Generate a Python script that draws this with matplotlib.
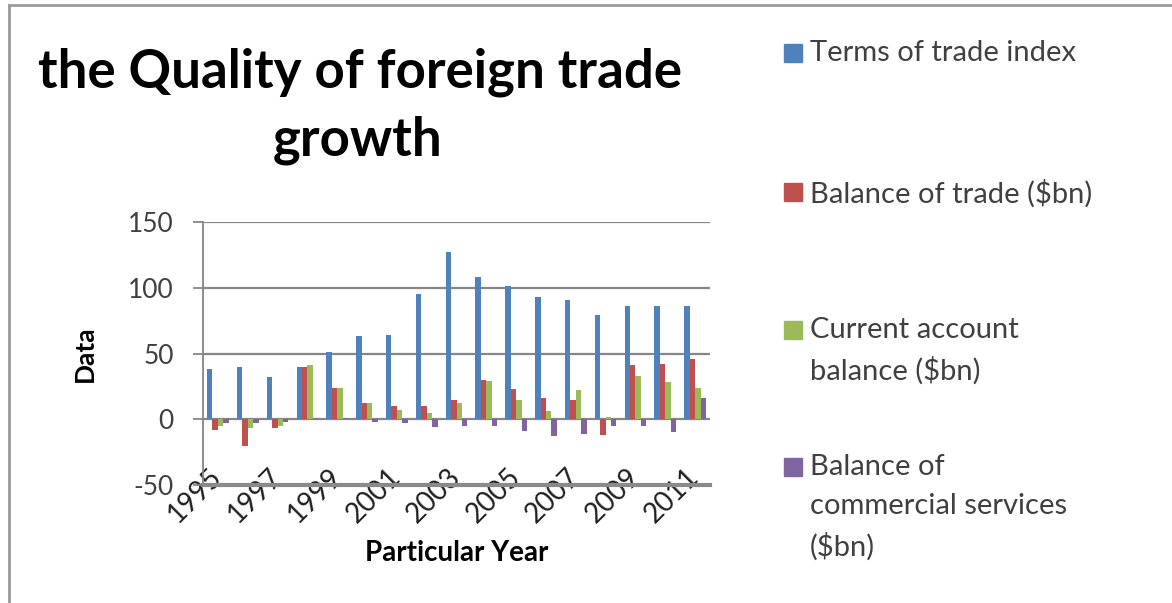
import matplotlib

matplotlib.use("Agg")
import matplotlib.pyplot as plt
import numpy as np
from matplotlib.lines import Line2D
from matplotlib.patches import Rectangle

plt.rcParams["font.family"] = ["Lato", "DejaVu Sans"]
plt.rcParams["axes.unicode_minus"] = False

years = list(range(1995, 2012))
terms_of_trade = [38, 40, 32, 40, 51, 63, 64, 95, 127, 108, 101, 93, 91, 79, 86, 86, 86]
balance_trade = [-8, -20, -7, 40, 24, 12, 10, 10, 15, 30, 23, 16, 15, -12, 41, 42, 46]
current_account = [-5, -7, -5, 41, 24, 12, 7, 5, 12, 29, 15, 6, 22, 2, 33, 28, 24]
commercial_services = [-3, -3, -2, 1, 1, -2, -3, -6, -5, -5, -9, -13, -11, -5, -5, -10, 16]

series = [
    ("Terms of trade index", terms_of_trade, "#4F81BD"),
    ("Balance of trade ($bn)", balance_trade, "#C0504D"),
    ("Current account\nbalance ($bn)", current_account, "#9BBB59"),
    ("Balance of\ncommercial services\n($bn)", commercial_services, "#8064A2"),
]

W, H = 1172, 603
fig = plt.figure(figsize=(W / 100, H / 100), dpi=100)
ax = fig.add_axes([203 / W, 1 - 485 / H, 507 / W, 263 / H])

x = np.arange(len(years))
w = 1 / 5.5
for i, (name, vals, color) in enumerate(series):
    ax.bar(x + (i - 1.5) * w, vals, width=w, color=color, zorder=3)

ax.set_xlim(-0.5, len(years) - 0.5)
ax.set_ylim(-50, 150)
ax.set_yticks([-50, 0, 50, 100, 150])
ax.yaxis.grid(True, color="#868686", linewidth=1.6, zorder=1)
ax.set_axisbelow(True)

for s in ["top", "right"]:
    ax.spines[s].set_visible(False)
ax.spines["left"].set_color("#868686")
ax.spines["left"].set_linewidth(1.3)
ax.spines["bottom"].set_color("#8a8a8a")
ax.spines["bottom"].set_linewidth(3)

ax.tick_params(axis="y", length=7, width=1.3, color="#868686", pad=14,
               labelsize=19, labelcolor="#404040")
ax.set_xticks(x[::2])
ax.set_xticklabels([str(y) for y in years[::2]], rotation=45, ha="right",
                   va="center", rotation_mode="anchor", fontsize=20, color="#202020")
ax.tick_params(axis="x", length=0, pad=-9)

ax.set_ylabel("Data", fontsize=19, fontweight="bold")
ax.set_xlabel("Particular Year", fontsize=20, fontweight="bold", labelpad=9)
ax.yaxis.set_label_coords(-0.21, 0.5)

fig.text(360 / W, 1 - 72 / H, "the Quality of foreign trade", ha="center", va="center",
         fontsize=38, fontweight="bold")
fig.text(358 / W, 1 - 140 / H, "growth", ha="center", va="center",
         fontsize=38, fontweight="bold")

# legend drawn by hand so the swatch sits on the first text line, as in Excel
tops = [53, 192, 330, 467]
for (name, vals, color), yc in zip(series, tops):
    fig.add_artist(Rectangle((784 / W, 1 - (yc + 9) / H), 18 / W, 18 / H,
                             transform=fig.transFigure, color=color))
    fig.text(810 / W, 1 - (yc - 13) / H, name, ha="left", va="top",
             fontsize=21, color="#404040", linespacing=1.6)

# outer chart frame (top and left edges only visible)
fig.add_artist(Line2D([9 / W, 1], [1 - 5 / H, 1 - 5 / H], color="#9a9a9a", linewidth=2))
fig.add_artist(Line2D([9 / W, 9 / W], [0, 1 - 5 / H], color="#9a9a9a", linewidth=2))

fig.savefig("out.png", dpi=100)
